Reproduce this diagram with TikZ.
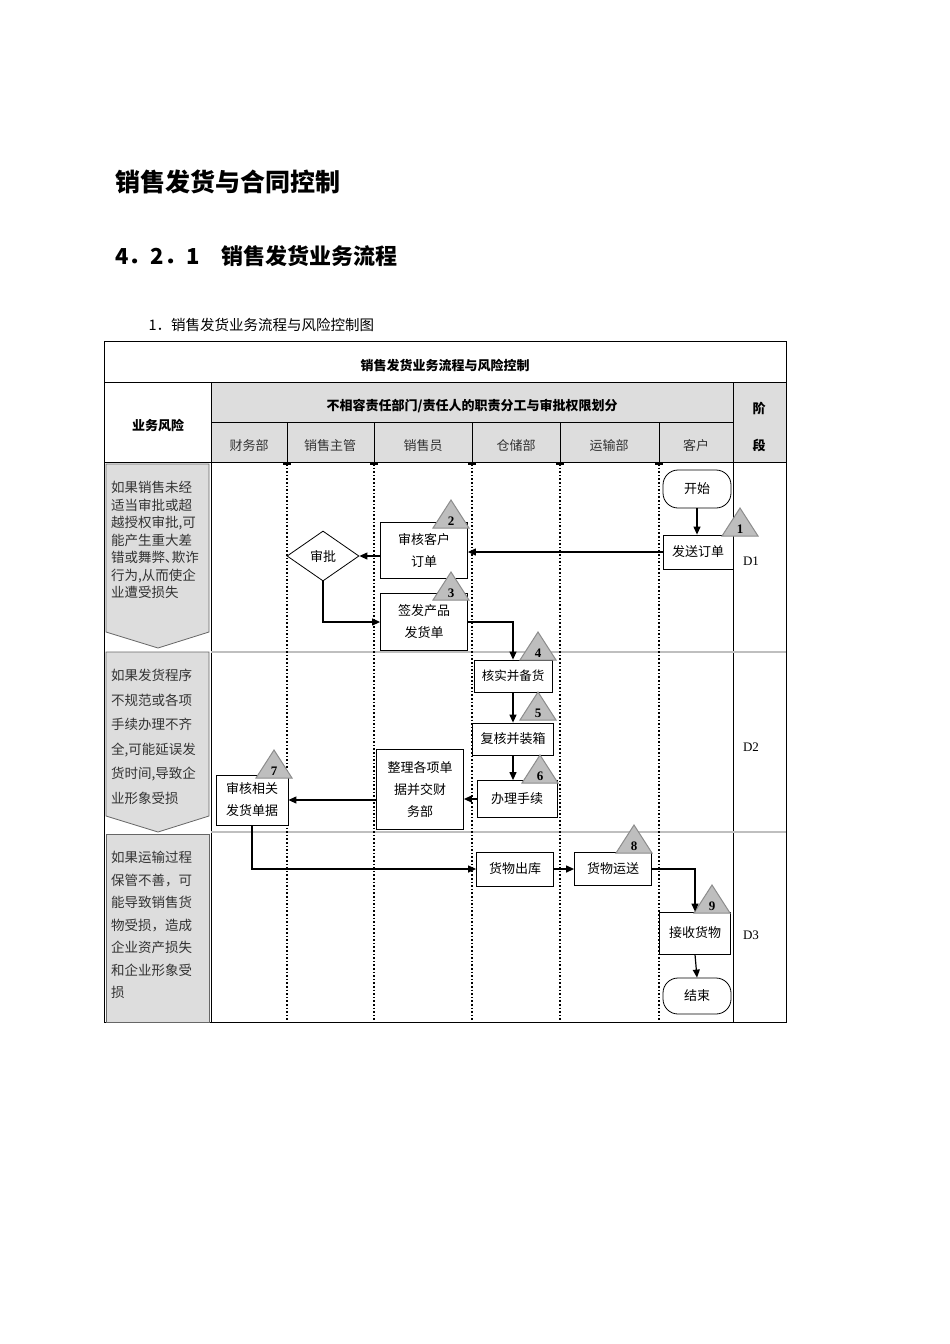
\documentclass[tikz,border=0pt]{standalone}
\usepackage{fontspec}
\setmainfont{Liberation Serif}
\newfontfamily\cjk{Noto Sans CJK SC}
\usetikzlibrary{shapes.geometric,arrows.meta}
\definecolor{hdr}{RGB}{221,221,221}
\definecolor{tri}{RGB}{190,190,190}
\tikzset{
  box/.style={draw,thick,fill=white,align=center,font=\cjk\fontsize{13}{22}\selectfont,inner sep=1pt},
  term/.style={draw,thick,fill=white,rounded corners=15pt,font=\cjk\fontsize{13}{16}\selectfont},
  arr/.style={-{Triangle[length=8pt,width=7pt]},line width=1.2pt},
  lane/.style={line width=1.6pt,dotted},
  hd/.style={font=\cjk\bfseries\fontsize{13}{16}\selectfont},
  dept/.style={font=\cjk\fontsize{13}{16}\selectfont,text=black!80},
  risk/.style={font=\cjk\fontsize{13.5}{24.5}\selectfont,text=black!80,align=left,anchor=north west,inner sep=0pt},
  trinum/.style={font=\bfseries\fontsize{13}{14}\selectfont,inner sep=0pt}
}
\newcommand{\mytri}[4]{% apex x, apex y, number, name
  \fill[tri,draw=black!45,line width=1pt] (#1,#2) -- (#1-18,#2+28) -- (#1+18,#2+28) -- cycle;
  \node[trinum] (#4) at (#1,#2+21) {#3};}
\begin{document}
\begin{tikzpicture}[x=1pt,y=-1pt]
\useasboundingbox (0,0) rectangle (950,1344);
\node[anchor=west,font=\cjk\bfseries\fontsize{25}{28}\selectfont] (t1) at (112,182) {销售发货与合同控制};
\node[anchor=west,font=\cjk\bfseries\fontsize{22}{24}\selectfont] (t2) at (112,256) {4．2．1\quad 销售发货业务流程};
\node[anchor=west,font=\cjk\fontsize{14.5}{16}\selectfont] (t3) at (145,325) {1．销售发货业务流程与风险控制图};
% header
\fill[hdr] (211,382) rectangle (786,462);
\draw[thick] (104,341) rectangle (786,382);
\node[hd] (title) at (445,366) {销售发货业务流程与风险控制};
\draw[thick] (104,382) rectangle (786,462);
\draw[thick] (211,382) -- (211,462);
\draw[thick] (733,382) -- (733,1022);
\draw[thick] (211,422) -- (733,422);
\foreach \x in {287,374,472,560,659} \draw[thick] (\x,422) -- (\x,462);
\node[hd] (risk) at (158,426) {业务风险};
\node[hd] (h2) at (472,406) {不相容责任部门/责任人的职责分工与审批权限划分};
\node[hd] (st) at (759,409) {阶};
\node[hd] (st2) at (759,445) {段};
\node[dept] at (249,446) {财务部};
\node[dept] at (330,446) {销售主管};
\node[dept] at (423,446) {销售员};
\node[dept] at (516,446) {仓储部};
\node[dept] at (609,446) {运输部};
\node[dept] at (696,446) {客户};
% body frame
\draw[thick] (104,462) -- (104,1022) -- (786,1022) -- (786,462);
\draw[thick] (211,462) -- (211,1022);
\draw[black!25,line width=1.2pt] (211,652) -- (786,652);
\draw[black!25,line width=1.2pt] (211,832) -- (786,832);
\foreach \x in {287,374,472,560,659} {\draw[lane] (\x,464) -- (\x,1022); \fill (\x-4,462) rectangle (\x+4,465);}
% risk shapes
\filldraw[fill=hdr,draw=black!60,thick] (106,464) -- (209,464) -- (209,632) -- (158,648) -- (106,632) -- cycle;
\filldraw[fill=hdr,draw=black!60,thick] (106,652) -- (209,652) -- (209,816) -- (158,832) -- (106,816) -- cycle;
\filldraw[fill=hdr,draw=black!60,thick] (106,834) -- (209,834) -- (209,1022) -- (106,1022) -- cycle;
\node[risk,font=\cjk\fontsize{13.5}{17.5}\selectfont] (r1) at (111,481) {如果销售未经\\适当审批或超\\越授权审批,可\\能产生重大差\\错或舞弊､欺诈\\行为,从而使企\\业遭受损失};
\node[risk] (r2) at (111,669) {如果发货程序\\不规范或各项\\手续办理不齐\\全,可能延误发\\货时间,导致企\\业形象受损};
\node[risk,font=\cjk\fontsize{13.5}{22.5}\selectfont] (r3) at (111,851) {如果运输过程\\保管不善，可\\能导致销售货\\物受损，造成\\企业资产损失\\和企业形象受\\损};
% stage labels
\node[font=\fontsize{13}{14}\selectfont] (d1) at (751,561) {D1};
\node[font=\fontsize{13}{14}\selectfont] (d2) at (751,747) {D2};
\node[font=\fontsize{13}{14}\selectfont] (d3) at (751,935) {D3};
% nodes
\node[term,minimum width=68pt,minimum height=38pt] (start) at (697,489) {开始};
\node[box,minimum width=70pt,minimum height=34pt] (send) at (698,552) {发送订单};
\node[box,minimum width=87pt,minimum height=56pt] (check) at (424,550) {审核客户\\订单};
\node[draw,thick,diamond,aspect=1.45,minimum width=72pt,minimum height=50pt,inner sep=0pt,fill=white,font=\cjk\fontsize{13}{16}\selectfont] (appr) at (323,556) {审批};
\node[box,minimum width=87pt,minimum height=57pt] (issue) at (424,622) {签发产品\\发货单};
\node[box,minimum width=78pt,minimum height=32pt,inner sep=0pt,font=\cjk\fontsize{12.5}{16}\selectfont] (verify) at (513,676) {核实并备货};
\node[box,minimum width=81pt,minimum height=32pt] (pack) at (513,739) {复核并装箱};
\node[box,minimum width=80pt,minimum height=37pt] (proc) at (517,799) {办理手续};
\node[box,minimum width=87pt,minimum height=80pt] (org) at (420,789) {整理各项单\\据并交财\\务部};
\node[box,minimum width=72pt,minimum height=50pt] (audit) at (252,800) {审核相关\\发货单据};
\node[box,minimum width=77pt,minimum height=34pt] (out) at (515,869) {货物出库};
\node[box,minimum width=77pt,minimum height=33pt] (ship) at (613,869) {货物运送};
\node[box,minimum width=71pt,minimum height=42pt] (recv) at (695,933) {接收货物};
\node[term,minimum width=68pt,minimum height=36pt] (end) at (697,996) {结束};
% triangles
\mytri{740}{508}{1}{n1}
\mytri{451}{500}{2}{n2}
\mytri{451}{572}{3}{n3}
\mytri{538}{632}{4}{n4}
\mytri{538}{692}{5}{n5}
\mytri{540}{755}{6}{n6}
\mytri{274}{750}{7}{n7}
\mytri{634}{825}{8}{n8}
\mytri{712}{885}{9}{n9}
% connectors
\draw[arr] (start) -- (start|-send.north);
\draw[arr] (send.west) -- (check.east|-send.west);
\draw[arr] (check.west|-appr) -- (appr.east);
\draw[arr] (appr.south) |- (issue.west);
\draw[arr] (issue.east) -| (verify.north);
\draw[arr] (verify) -- (verify|-pack.north);
\draw[arr] (pack) -- (pack|-proc.north);
\draw[arr] (proc.west) -- (org.east|-proc.west);
\draw[arr] (org.west|-audit.east) -- (audit.east);
\draw[arr] (audit.south) |- (out.west);
\draw[arr] (out.east) -- (ship.west);
\draw[arr] (ship.east) -| (recv.north);
\draw[arr] (recv.south) -- (end.north);
\end{tikzpicture}
\end{document}
